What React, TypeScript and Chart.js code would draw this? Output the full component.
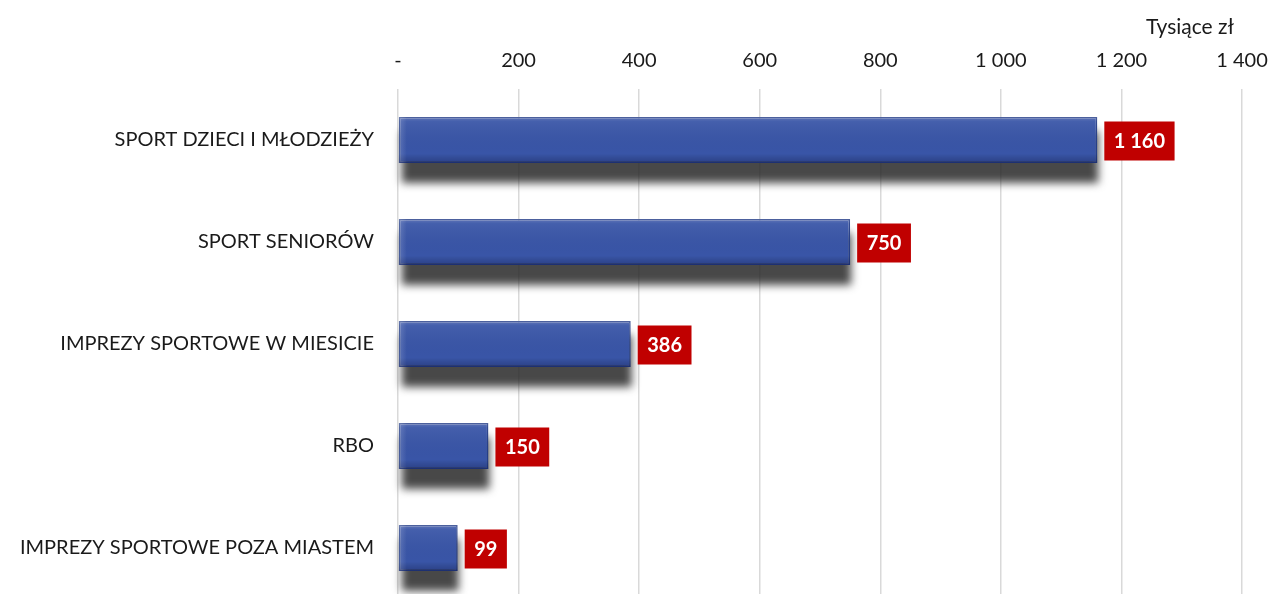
import React, { useEffect, useRef } from "react";
import { Chart, registerables } from "chart.js";

Chart.register(...registerables);

const categories = [
  "SPORT DZIECI I MŁODZIEŻY",
  "SPORT SENIORÓW",
  "IMPREZY SPORTOWE W MIESICIE",
  "RBO",
  "IMPREZY SPORTOWE POZA MIASTEM",
];
const values = [1160, 750, 386, 150, 99];
const axisMax = 1400;
const axisStep = 200;
const unitLabel = "Tysiące zł";

const FONT = "Lato, 'Open Sans', sans-serif";

function fmt(v: number): string {
  if (v === 0) return "-";
  return String(Math.round(v)).replace(/\B(?=(\d{3})+(?!\d))/g, " ");
}

const shadowPlugin = {
  id: "barShadow",
  beforeDatasetsDraw(chart: any) {
    const ctx = chart.ctx;
    const meta = chart.getDatasetMeta(0);
    ctx.save();
    ctx.filter = "blur(4px)";
    ctx.fillStyle = "rgba(40,40,40,0.85)";
    meta.data.forEach((bar: any) => {
      const top = bar.y - bar.height / 2;
      const bottom = bar.y + bar.height / 2;
      ctx.fillRect(bar.base + 3, top + 14, bar.x - bar.base - 2, bottom - top + 6);
    });
    ctx.restore();
  },
  afterDatasetsDraw(chart: any) {
    const ctx = chart.ctx;
    const meta = chart.getDatasetMeta(0);
    ctx.save();
    meta.data.forEach((bar: any) => {
      const left = bar.base;
      const right = bar.x;
      const top = bar.y - bar.height / 2;
      const bottom = bar.y + bar.height / 2;
      const g = ctx.createLinearGradient(0, top, 0, bottom);
      g.addColorStop(0, "rgba(255,255,255,0.20)");
      g.addColorStop(0.1, "rgba(255,255,255,0.06)");
      g.addColorStop(0.8, "rgba(0,0,0,0.0)");
      g.addColorStop(1, "rgba(0,0,40,0.25)");
      ctx.fillStyle = g;
      ctx.fillRect(left, top, right - left, bottom - top);
      const gl = ctx.createLinearGradient(left, 0, left + 8, 0);
      gl.addColorStop(0, "rgba(255,255,255,0.18)");
      gl.addColorStop(1, "rgba(255,255,255,0)");
      ctx.fillStyle = gl;
      ctx.fillRect(left, top, 8, bottom - top);
    });
    ctx.restore();
  },
};

const labelPlugin = {
  id: "valueBoxes",
  afterDatasetsDraw(chart: any) {
    const ctx = chart.ctx;
    const meta = chart.getDatasetMeta(0);
    ctx.save();
    ctx.font = `bold 20px ${FONT}`;
    ctx.textBaseline = "middle";
    ctx.textAlign = "center";
    meta.data.forEach((bar: any, i: number) => {
      const txt = fmt(values[i]);
      const w = ctx.measureText(txt).width + 19;
      const h = 39;
      const x = bar.x + 7;
      const y = bar.y - h / 2 + 1;
      ctx.fillStyle = "#C00000";
      ctx.fillRect(x, y, w, h);
      ctx.fillStyle = "#FFFFFF";
      ctx.fillText(txt, x + w / 2, y + h / 2 + 1);
    });
    ctx.restore();
  },
};

const titlePlugin = {
  id: "unitTitle",
  afterDraw(chart: any) {
    const ctx = chart.ctx;
    ctx.save();
    ctx.font = `21px ${FONT}`;
    ctx.fillStyle = "#1a1a1a";
    ctx.textAlign = "right";
    ctx.textBaseline = "middle";
    ctx.fillText(unitLabel, chart.chartArea.right - 8, 27);
    ctx.restore();
  },
};

const zeroPad = (axis: any) => {
  axis.paddingTop = 0;
  axis.paddingBottom = 0;
  axis.paddingLeft = 0;
  axis.paddingRight = 0;
};

export default function App() {
  const ref = useRef<HTMLCanvasElement | null>(null);
  useEffect(() => {
    if (!ref.current) return;
    const chart = new Chart(ref.current, {
      type: "bar",
      data: {
        labels: categories,
        datasets: [
          {
            data: values,
            backgroundColor: "#3955A7",
            borderColor: "#253E88",
            borderWidth: 1.5,
            borderSkipped: false,
            barPercentage: 0.45,
            categoryPercentage: 1,
          },
        ],
      },
      options: {
        indexAxis: "y",
        animation: false,
        responsive: false,
        maintainAspectRatio: false,
        layout: { padding: { top: 33, right: 29, bottom: 5, left: 0 } },
        plugins: {
          legend: { display: false },
          tooltip: { enabled: false },
          title: { display: false },
        },
        scales: {
          x: {
            position: "top",
            min: 0,
            max: axisMax,
            ticks: {
              stepSize: axisStep,
              callback: (v: any) => fmt(Number(v)),
              font: { family: FONT, size: 20 },
              color: "#1a1a1a",
              padding: 16,
              maxRotation: 0,
            },
            grid: {
              color: "#D9D9D9",
              lineWidth: 1.5,
              drawTicks: false,
            },
            border: { display: false },
            afterFit: zeroPad,
          },
          y: {
            ticks: {
              font: { family: FONT, size: 20 },
              color: "#1a1a1a",
              padding: 24,
            },
            grid: { display: false, drawTicks: false },
            border: { display: false },
            afterFit: (axis: any) => {
              axis.width = 398;
              zeroPad(axis);
            },
          },
        },
      },
      plugins: [shadowPlugin, labelPlugin, titlePlugin],
    });
    return () => chart.destroy();
  }, []);
  return (
    <div
      style={{
        position: "fixed",
        left: 0,
        top: 0,
        width: 1271,
        height: 604,
        background: "#fff",
      }}
    >
      <canvas ref={ref} width={1271} height={604} style={{ display: "block" }} />
    </div>
  );
}
